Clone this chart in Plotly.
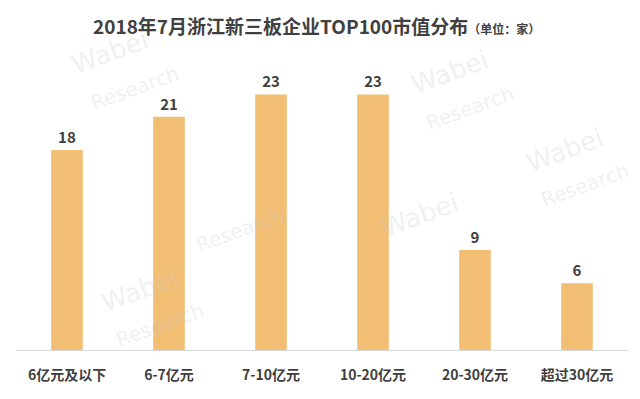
import plotly.graph_objects as go

categories = ["6亿元及以下", "6-7亿元", "7-10亿元", "10-20亿元", "20-30亿元", "超过30亿元"]
values = [18, 21, 23, 23, 9, 6]

font_family = "Noto Sans CJK SC, Microsoft YaHei, sans-serif"

ML, MR, MT, MB = 16, 12, 40, 49
PW, PH = 640 - ML - MR, 399 - MT - MB


def px(x):
    return (x - ML) / PW


def py(y):
    return (399 - MB - y) / PH


fig = go.Figure()
fig.add_trace(go.Bar(
    x=categories, y=values,
    marker=dict(color="#F2BE74", line=dict(width=0)),
    text=[str(v) for v in values],
    textposition="outside",
    textfont=dict(family=font_family, size=15, color="#404040", weight="bold"),
    cliponaxis=False,
))

# faint watermarks
wm = [(110, 52, "Wabei"), (135, 88, "Research"), (450, 72, "Wabei"), (470, 108, "Research"),
      (565, 150, "Wabei"), (585, 185, "Research"), (140, 290, "Wabei"), (160, 325, "Research"),
      (420, 215, "Wabei"), (240, 230, "Research")]
annotations = []
for x, y, t in wm:
    annotations.append(dict(x=px(x), y=py(y), xref="paper", yref="paper", text=t,
                            showarrow=False, textangle=-20, yanchor="middle", xanchor="center",
                            font=dict(family="DejaVu Sans", size=26 if t == "Wabei" else 20,
                                      color="rgba(200,205,215,0.3)")))

annotations.append(dict(
    x=px(316), y=py(25), xref="paper", yref="paper", showarrow=False,
    yanchor="middle", xanchor="center",
    text="<b>2018年7月浙江新三板企业TOP100市值分布</b><span style='font-size:12px'><b>（单位：家）</b></span>",
    font=dict(family=font_family, size=19, color="#404040"),
))

fig.update_layout(
    width=640, height=399,
    margin=dict(l=ML, r=MR, t=MT, b=MB),
    paper_bgcolor="white", plot_bgcolor="white",
    showlegend=False,
    bargap=0.69,
    annotations=annotations,
    xaxis=dict(showline=True, linecolor="#D9D9D9", linewidth=1, ticks="",
               tickfont=dict(family=font_family, size=14, color="#404040", weight="bold"),
               ticklabelstandoff=12),
    yaxis=dict(range=[0, 27.9], showgrid=False, showticklabels=False, zeroline=False),
)

fig.write_html("out.html")
